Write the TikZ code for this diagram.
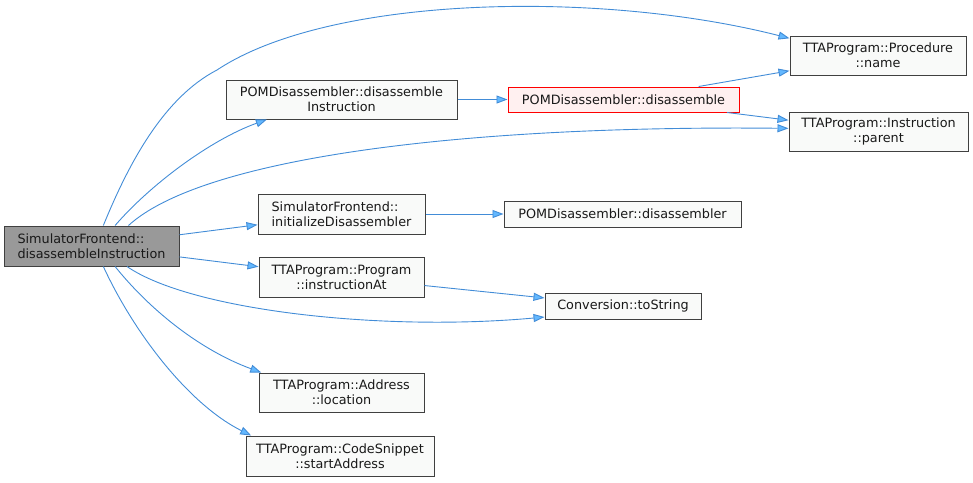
\documentclass[tikz,border=0pt]{standalone}
\usepackage{fontspec}
\setmainfont{DejaVu Sans}
\usetikzlibrary{arrows.meta}
\definecolor{edgeblue}{RGB}{66,140,215}
\definecolor{tipblue}{RGB}{99,184,255}
\definecolor{boxline}{RGB}{64,64,64}
\definecolor{boxfill}{RGB}{249,250,249}
\definecolor{rootfill}{RGB}{153,153,153}
\definecolor{hlfill}{RGB}{255,240,240}
\begin{document}
\begin{tikzpicture}[x=1pt,y=-1pt,
    fn/.style={draw=boxline,fill=boxfill,line width=1pt,inner sep=0pt,align=center,
      text=black!90,font=\fontsize{12.8}{15}\selectfont},
    call/.style={draw=edgeblue,line width=0.9pt,-{Triangle[length=11pt,width=8pt,fill=tipblue]}}]
    \useasboundingbox (0,0) rectangle (973,482);
    \node[fn,fill=rootfill,align=left,minimum width=175,minimum height=40] (root) at (91.5,246) {SimulatorFrontend::\\disassembleInstruction};
    \node[fn,minimum width=231,minimum height=39] (pdi) at (341.5,99.5) {POMDisassembler::disassemble\\Instruction};
    \node[fn,draw=red,fill=hlfill,minimum width=231,minimum height=25] (pd) at (623.5,99.5) {POMDisassembler::disassemble};
    \node[fn,minimum width=176,minimum height=39] (pname) at (878,55.5) {TTAProgram::Procedure\\::name};
    \node[fn,minimum width=179,minimum height=39] (iparent) at (878.5,131.5) {TTAProgram::Instruction\\::parent};
    \node[fn,align=left,minimum width=167,minimum height=40] (init) at (341.5,214) {SimulatorFrontend::\\initializeDisassembler};
    \node[fn,minimum width=237,minimum height=26] (pdr) at (622.5,214) {POMDisassembler::disassembler};
    \node[fn,minimum width=165,minimum height=40] (instAt) at (341.5,277) {TTAProgram::Program\\::instructionAt};
    \node[fn,minimum width=156,minimum height=26] (tostr) at (623,306) {Conversion::toString};
    \node[fn,minimum width=165,minimum height=39] (loc) at (341.5,392.5) {TTAProgram::Address\\::location};
    \node[fn,minimum width=188,minimum height=40] (start) at (340,456) {TTAProgram::CodeSnippet\\::startAddress};
    \foreach \a/\b in {root/init,root/instAt,pdi/pd,pd/pname,pd/iparent,init/pdr,instAt/tostr} {
        \draw[call] (\a) -- (\b);
    }
    \draw[call] (root.60) .. controls (130,160) and (165,97) .. (217,70) .. controls (330,-5) and (600,-10) .. (pname.169);
    \draw[call] (root.41) .. controls (150,185) and (210,140) .. (pdi.195);
    \draw[call] (root.29) .. controls (200,160) and (450,125) .. (iparent.178);
    \draw[call] (root.-30) .. controls (190,310) and (380,332) .. (tostr.188);
    \draw[call] (root.-41) .. controls (150,310) and (200,350) .. (loc.166);
    \draw[call] (root.-60) .. controls (135,335) and (190,405) .. (start.167);
\end{tikzpicture}
\end{document}
